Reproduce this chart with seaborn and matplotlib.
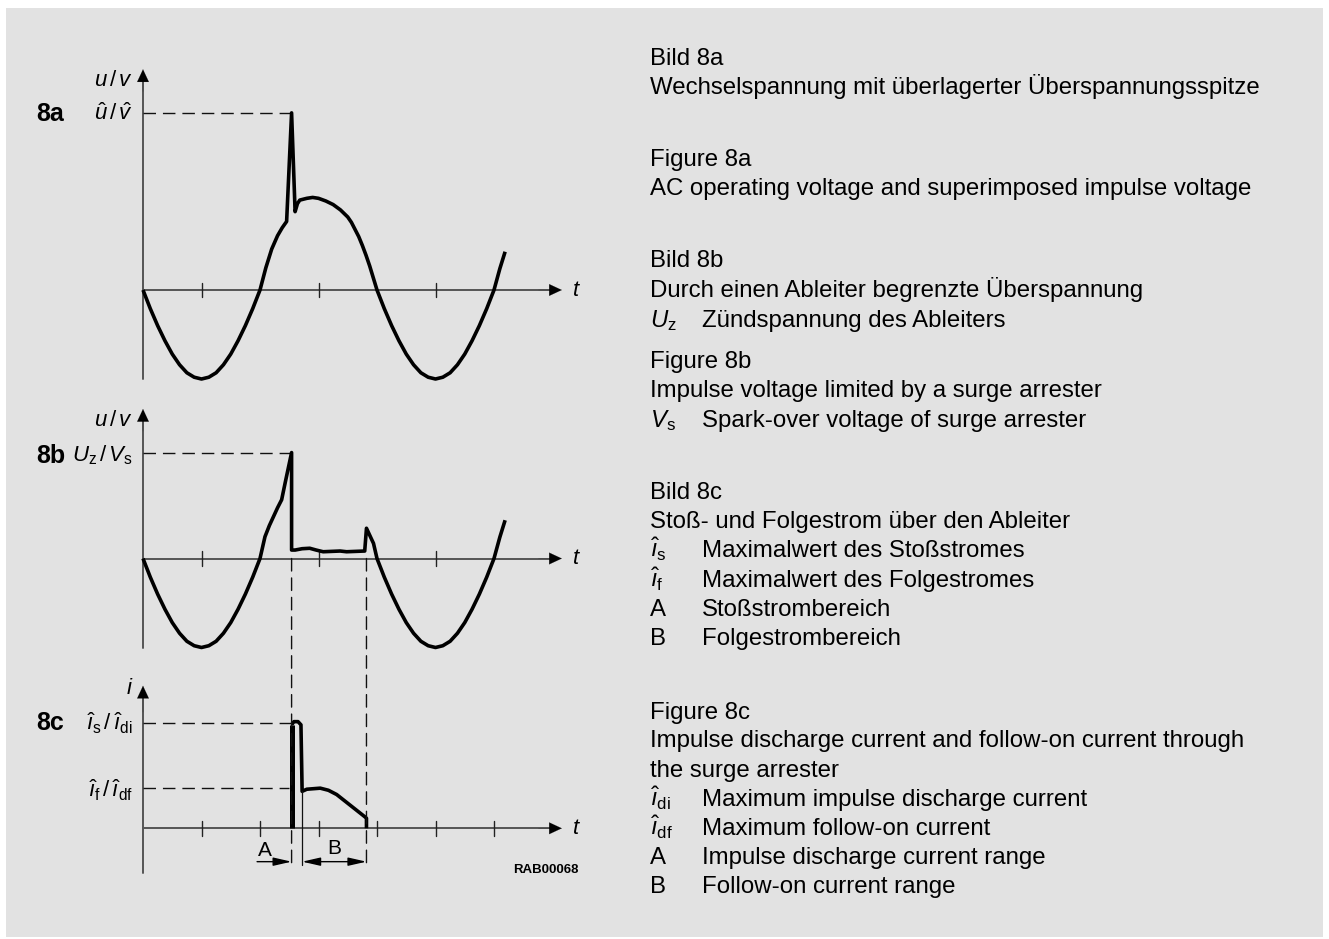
import numpy as np
import pandas as pd
import matplotlib
matplotlib.use("Agg")
import matplotlib.pyplot as plt
import seaborn as sns
from matplotlib import font_manager
from matplotlib.patches import Rectangle, ConnectionPatch

### Datos (t en cuartos de periodo, u en amplitudes)
# onda alterna base, primera media onda negativa
onda_t1 = [0, 0.125, 0.25, 0.375, 0.5, 0.625, 0.75, 0.875, 1.0,
           1.125, 1.25, 1.375, 1.5, 1.625, 1.75, 1.875, 2.0]
onda_u1 = [0, -0.21, -0.40, -0.57, -0.72, -0.84, -0.93, -0.98, -1.0,
           -0.98, -0.93, -0.84, -0.72, -0.57, -0.40, -0.21, 0]
# segunda media onda negativa y subida final
onda_t2 = [4.0, 4.125, 4.25, 4.375, 4.5, 4.625, 4.75, 4.875, 5.0,
           5.125, 5.25, 5.375, 5.5, 5.625, 5.75, 5.875, 6.0, 6.1, 6.19]
onda_u2 = [0, -0.21, -0.40, -0.57, -0.72, -0.84, -0.93, -0.98, -1.0,
           -0.98, -0.93, -0.84, -0.72, -0.57, -0.40, -0.21, 0, 0.24, 0.43]

# Bild 8a: semionda positiva con sobretension
a_t = [2.0, 2.1, 2.2, 2.3, 2.38, 2.455, 2.54, 2.60, 2.64, 2.68, 2.8, 2.9, 3.0,
       3.125, 3.25, 3.375, 3.5, 3.5625, 3.625, 3.6875, 3.75, 3.8125, 3.875, 4.0]
a_u = [0, 0.25, 0.46, 0.61, 0.70, 0.77, 1.99, 0.88, 0.97, 1.01, 1.03, 1.04, 1.03,
       1.0, 0.96, 0.90, 0.82, 0.76, 0.68, 0.60, 0.50, 0.39, 0.27, 0]
a_pico = 1.99

# Bild 8b: sobretension limitada por el descargador
b_t = [2.0, 2.085, 2.16, 2.23, 2.30, 2.37, 2.43, 2.54, 2.54, 2.6, 2.72, 2.85, 2.96, 3.08,
       3.37, 3.48, 3.79, 3.82, 3.94, 4.0]
b_u = [0, 0.245, 0.37, 0.47, 0.57, 0.66, 0.85, 1.19, 0.095, 0.095, 0.11, 0.115, 0.095, 0.076,
       0.084, 0.076, 0.084, 0.34, 0.17, 0]
b_pico = 1.19

# Bild 8c: corriente de choque y corriente subsiguiente
c_t = [2.54, 2.54, 2.58, 2.65, 2.70, 2.72, 2.80, 3.03, 3.17, 3.31, 3.79, 3.82, 3.82]
c_i = [0, 0.98, 1.01, 1.01, 0.98, 0.35, 0.37, 0.38, 0.36, 0.32, 0.11, 0.095, 0]
c_is = 1.0
c_if = 0.38
t_encendido = 2.54
t_fin_A = 2.72
t_apagado = 3.82
t_inicio_A = 1.95

ticks_ab = [1, 3, 5]
ticks_c = [1, 2, 3, 4, 5, 6]

### Textos de la derecha
textos = [
    (58, "", "Bild 8a"),
    (87, "", "Wechselspannung mit überlagerter Überspannungsspitze"),
    (159, "", "Figure 8a"),
    (188, "", "AC operating voltage and superimposed impulse voltage"),
    (260, "", "Bild 8b"),
    (290, "", "Durch einen Ableiter begrenzte Überspannung"),
    (320, r"$U_\mathrm{z}$", "Zündspannung des Ableiters"),
    (361, "", "Figure 8b"),
    (390, "", "Impulse voltage limited by a surge arrester"),
    (420, r"$V_\mathrm{s}$", "Spark-over voltage of surge arrester"),
    (492, "", "Bild 8c"),
    (521, "", "Stoß- und Folgestrom über den Ableiter"),
    (550, r"$\hat{\imath}_\mathrm{s}$", "Maximalwert des Stoßstromes"),
    (580, r"$\hat{\imath}_\mathrm{f}$", "Maximalwert des Folgestromes"),
    (609, "A", "Stoßstrombereich"),
    (638, "B", "Folgestrombereich"),
    (712, "", "Figure 8c"),
    (740, "", "Impulse discharge current and follow-on current through"),
    (770, "", "the surge arrester"),
    (799, r"$\hat{\imath}_\mathrm{di}$", "Maximum impulse discharge current"),
    (828, r"$\hat{\imath}_\mathrm{df}$", "Maximum follow-on current"),
    (857, "A", "Impulse discharge current range"),
    (886, "B", "Follow-on current range"),
]

### Estilo
sns.set_style("white")
nombres = {f.name for f in font_manager.fontManager.ttflist}
FUENTE = "Liberation Sans Narrow" if "Liberation Sans Narrow" in nombres else "Liberation Sans"
plt.rcParams["font.family"] = [FUENTE, "DejaVu Sans"]
plt.rcParams["text.color"] = "black"
plt.rcParams["mathtext.fontset"] = "custom"
plt.rcParams["mathtext.rm"] = FUENTE
plt.rcParams["mathtext.it"] = FUENTE + ":italic"
plt.rcParams["mathtext.bf"] = FUENTE + ":bold"

W, H = 1329, 939
FONDO = "#e2e2e2"
EJE = "#555555"
NEGRO = "#000000"
DASH = (0, (9, 5))

fig = plt.figure(figsize=(W / 100, H / 100), dpi=100)
fig.patch.set_facecolor("white")
fig.add_artist(Rectangle((6 / W, 1 - 937 / H), (1323 - 6) / W, (937 - 8) / H,
                         transform=fig.transFigure, facecolor=FONDO, edgecolor="none", zorder=0))

X0, ESC_T = 143.0, 58.5


def panel(y_top, y_bot, cero, esc_u):
    ax = fig.add_axes([120 / W, 1 - y_bot / H, (590 - 120) / W, (y_bot - y_top) / H])
    ax.set_xlim((120 - X0) / ESC_T, (590 - X0) / ESC_T)
    ax.set_ylim((cero - y_bot) / esc_u, (cero - y_top) / esc_u)
    ax.axis("off")
    ax.patch.set_alpha(0)
    return ax


def ejes(ax, u_bajo, u_tope, t_tope, ticks, largo):
    ax.plot([0, 0], [u_bajo, u_tope - 0.05], color=EJE, lw=1.4, clip_on=False)
    ax.plot([0, t_tope - 0.1], [0, 0], color=EJE, lw=1.4, clip_on=False)
    flecha = dict(arrowstyle="-|>,head_length=0.9,head_width=0.42", color=NEGRO,
                  lw=0.1, shrinkA=0, shrinkB=0, mutation_scale=10)
    ax.annotate("", xy=(0, u_tope), xytext=(0, u_tope - 0.25), arrowprops=flecha,
                annotation_clip=False)
    ax.annotate("", xy=(t_tope, 0), xytext=(t_tope - 0.4, 0), arrowprops=flecha,
                annotation_clip=False)
    for tk in ticks:
        ax.plot([tk, tk], [-largo, largo], color="#222222", lw=1.0, clip_on=False)


def curva(ax, t, u, lw=2.6):
    df = pd.DataFrame({"t": t, "u": u})
    sns.lineplot(data=df, x="t", y="u", sort=False, estimator=None, color=NEGRO,
                 lw=lw, ax=ax, solid_joinstyle="round", solid_capstyle="butt")


def txt(x, y, s, **kw):
    kw.setdefault("va", "center")
    fig.text(x / W, 1 - y / H, s, **kw)


### Bild 8a
ax_a = panel(60, 390, 290, 89)
ejes(ax_a, -1.0, 2.48, 7.16, ticks_ab, 0.084)
ax_a.plot([0, a_t[a_u.index(a_pico)]], [a_pico, a_pico], color="#111111", lw=1.0, ls=DASH)
curva(ax_a, onda_t1 + a_t + onda_t2, onda_u1 + a_u + onda_u2)

### Bild 8b
ax_b = panel(400, 655, 558.5, 89)
ejes(ax_b, -1.01, 1.68, 7.16, ticks_ab, 0.084)
ax_b.plot([0, b_t[b_u.index(b_pico)]], [b_pico, b_pico], color="#111111", lw=1.0, ls=DASH)
curva(ax_b, onda_t1 + b_t + onda_t2, onda_u1 + b_u + onda_u2)

### Bild 8c
ax_c = panel(675, 880, 828.3, 105.6)
ejes(ax_c, -0.42, 1.35, 7.16, ticks_c, 0.071)
ax_c.plot([0, t_encendido], [c_is, c_is], color="#111111", lw=1.0, ls=DASH)
ax_c.plot([0, t_encendido - 0.05], [c_if, c_if], color="#111111", lw=1.0, ls=DASH)
curva(ax_c, c_t[1:], c_i[1:])
curva(ax_c, c_t[:2], c_i[:2], lw=3.6)

nivel_flecha = -0.316
for tt in [t_encendido, t_apagado]:
    con = ConnectionPatch(xyA=(tt, 0), coordsA=ax_b.transData, xyB=(tt, -0.35),
                          coordsB=ax_c.transData, color="#111111", lw=1.0, ls=DASH)
    fig.add_artist(con)
ax_c.plot([t_fin_A, t_fin_A], [c_i[5], -0.35], color="#111111", lw=0.9, clip_on=False)
flecha_ab = dict(arrowstyle="-|>,head_length=1.1,head_width=0.25", color=NEGRO, lw=1.0,
                 shrinkA=0, shrinkB=0, mutation_scale=10)
ax_c.annotate("", xy=(t_encendido, nivel_flecha), xytext=(t_inicio_A, nivel_flecha),
              arrowprops=flecha_ab, annotation_clip=False)
flecha_b = dict(arrowstyle="<|-|>,head_length=1.1,head_width=0.25", color=NEGRO, lw=1.0,
                shrinkA=0, shrinkB=0, mutation_scale=10)
ax_c.annotate("", xy=(t_apagado, nivel_flecha), xytext=(t_fin_A, nivel_flecha),
              arrowprops=flecha_b, annotation_clip=False)

### Rotulos de la izquierda
for y, s in [(114, "8a"), (456, "8b"), (723, "8c")]:
    txt(36, y, s, fontsize=18, fontweight="bold", ha="left", family="Liberation Sans")
etiquetas = [
    (80, r"$u\,/\,v$"), (114, r"$\hat{u}\,/\,\hat{v}$"),
    (420, r"$u\,/\,v$"), (455, r"$U_\mathrm{z}\,/\,V_\mathrm{s}$"),
    (688, r"$i$"), (723, r"$\hat{\imath}_\mathrm{s}\,/\,\hat{\imath}_\mathrm{di}$"),
    (790, r"$\hat{\imath}_\mathrm{f}\,/\,\hat{\imath}_\mathrm{df}$"),
]
for y, s in etiquetas:
    txt(133, y, s, fontsize=16, ha="right")
for y in [290, 558.5, 828.3]:
    txt(572, y, r"$t$", fontsize=16, ha="left")
txt(265, 851, "A", fontsize=15, ha="center")
txt(334, 849, "B", fontsize=15, ha="center")
txt(546, 870, "RAB00068", fontsize=9.5, fontweight="bold", ha="center")

### Textos de la derecha
for y, simb, linea in textos:
    if simb:
        txt(650, y + 7, simb, fontsize=17.3, ha="left", va="baseline")
        txt(702, y + 7, linea, fontsize=17.3, ha="left", va="baseline")
    else:
        txt(650, y + 7, linea, fontsize=17.3, ha="left", va="baseline")

fig.savefig("out.png", dpi=100, facecolor=fig.get_facecolor())
